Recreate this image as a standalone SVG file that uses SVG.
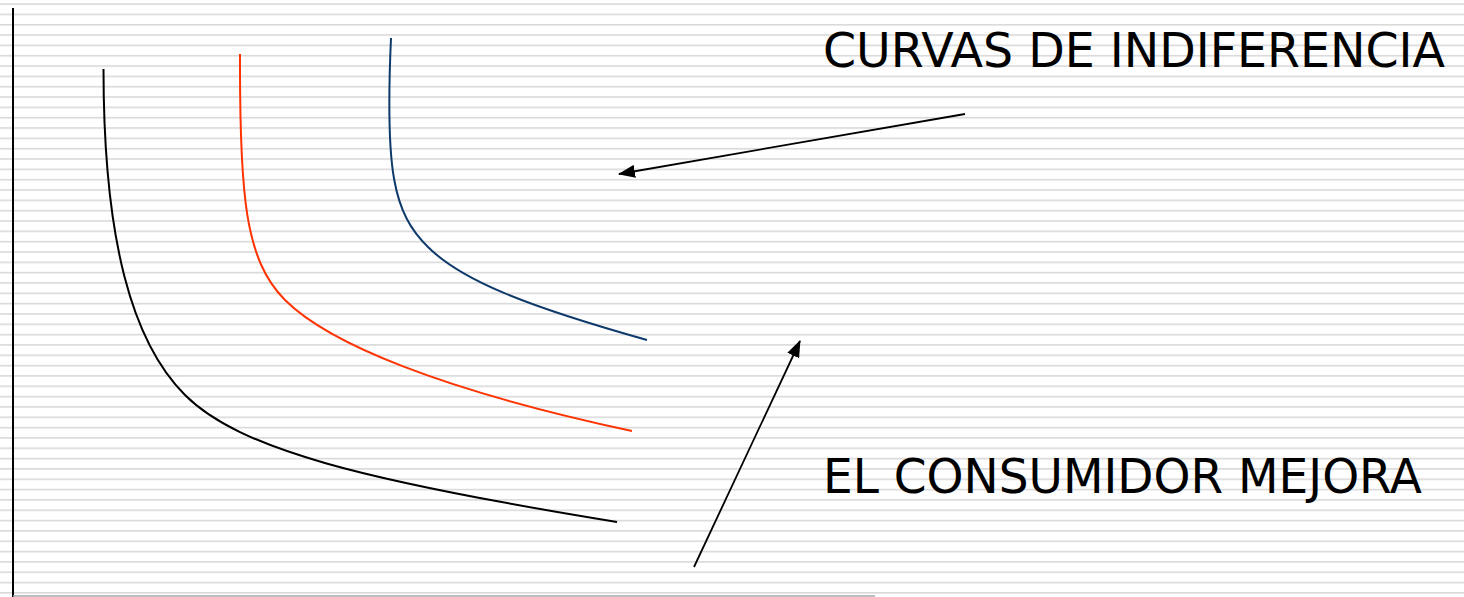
<svg xmlns="http://www.w3.org/2000/svg" width="1464" height="597" viewBox="0 0 1464 597">
<style>
.lbl{font-family:"DejaVu Sans","Liberation Sans",sans-serif;font-size:47.5px;fill:#000}
.curve{fill:none;stroke-width:2}
.conn{fill:none;stroke:#000;stroke-width:1.8}
</style>
<defs>
<pattern id="stripes" patternUnits="userSpaceOnUse" x="0" y="3.25" width="1464" height="10.33">
<rect x="0" y="0" width="1464" height="1.6" fill="#d9d9d9"/>
</pattern>
<marker id="ah" viewBox="0 0 17 13" refX="16" refY="6.5" markerWidth="17" markerHeight="13" markerUnits="userSpaceOnUse" orient="auto">
<path d="M0,0 L17,6.5 L0,13 Z" fill="#000"/>
</marker>
</defs>
<rect width="1464" height="597" fill="#fff"/>
<rect width="1464" height="597" fill="url(#stripes)"/>
<g id="axes">
<line x1="13" y1="8" x2="13" y2="597" stroke="#000" stroke-width="2"/>
<line x1="13" y1="596" x2="875" y2="596" stroke="#a6a6a6" stroke-width="1.5"/>
</g>
<g id="curve-black">
<path class="curve" stroke="#000" d="M103.5,69 C103.5,240 132,342 185,395 C239.1,449.1 361.9,480.4 617,522"/>
</g>
<g id="curve-red">
<path class="curve" stroke="#ff3300" d="M240,54 C239.5,195 245,260 285,300 C328.1,343.1 439.4,389.6 632,431"/>
</g>
<g id="curve-blue">
<path class="curve" stroke="#0d3a6b" d="M391,38 C385,170 393,213 428,247 C460.9,279.9 524.4,305.6 647,340"/>
</g>
<g id="label-curvas">
<text class="lbl" x="823" y="67" textLength="622" lengthAdjust="spacingAndGlyphs">CURVAS DE INDIFERENCIA</text>
</g>
<g id="label-consumidor">
<text class="lbl" x="823" y="493" textLength="599" lengthAdjust="spacingAndGlyphs">EL CONSUMIDOR MEJORA</text>
</g>
<g id="connectors">
<line class="conn" x1="965" y1="114" x2="619" y2="174" marker-end="url(#ah)"/>
<line class="conn" x1="694" y1="567" x2="800" y2="341" marker-end="url(#ah)"/>
</g>
</svg>
